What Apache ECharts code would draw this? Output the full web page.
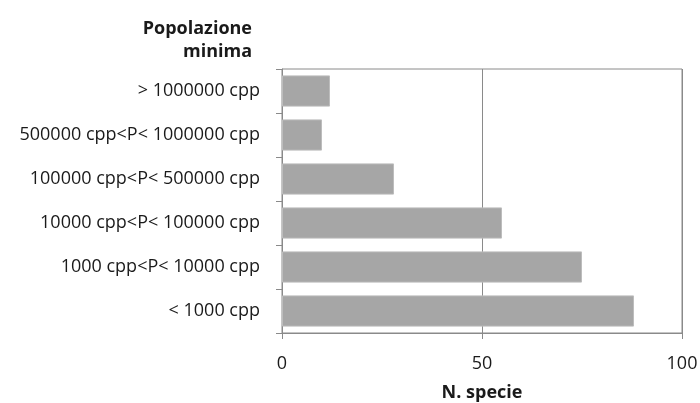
<!DOCTYPE html>
<html>
<head>
<meta charset="utf-8">
<script src="https://cdn.jsdelivr.net/npm/echarts@6/dist/echarts.min.js"></script>
<style>html,body{margin:0;padding:0;background:#fff}#chart{width:700px;height:403px}</style>
</head>
<body>
<div id="chart"></div>
<script>
// Population classes (top to bottom) and number of species in each
const categories = ['> 1000000 cpp', '500000 cpp<P< 1000000 cpp', '100000 cpp<P< 500000 cpp',
  '10000 cpp<P< 100000 cpp', '1000 cpp<P< 10000 cpp', '< 1000 cpp'];
const species = [12, 10, 28, 55, 75, 88];
const xTicks = [0, 50, 100];

const font = '"Open Sans", "Liberation Sans", sans-serif';
const chart = echarts.init(document.getElementById('chart'));
chart.setOption({
  animation: false,
  grid: {
    left: 282, right: 18, top: 69, bottom: 70, containLabel: false, outerBoundsMode: 'none',
    show: true, borderColor: '#8a8a8a', borderWidth: 1
  },
  graphic: [{
    type: 'text', right: 448, top: 17,
    style: { text: 'Popolazione\nminima', font: 'bold 18px ' + font, fill: '#1a1a1a', textAlign: 'right', lineHeight: 23 }
  }],
  xAxis: {
    type: 'value', min: xTicks[0], max: xTicks[xTicks.length - 1], interval: 50,
    name: 'N. specie', nameLocation: 'middle', nameGap: 51,
    nameTextStyle: { fontFamily: font, fontWeight: 'bold', fontSize: 18, color: '#1a1a1a' },
    axisLine: { show: true, lineStyle: { color: '#8a8a8a' } },
    axisTick: { show: true, length: 6, lineStyle: { color: '#8a8a8a' } },
    axisLabel: { fontFamily: font, fontSize: 18, color: '#1a1a1a', margin: 22 },
    splitLine: { show: true, lineStyle: { color: '#8a8a8a' } }
  },
  yAxis: {
    type: 'category', data: categories, inverse: true,
    axisLine: { show: true, lineStyle: { color: '#8a8a8a' } },
    axisTick: { show: true, length: 6, alignWithLabel: false, lineStyle: { color: '#8a8a8a' } },
    axisLabel: { fontFamily: font, fontSize: 18, color: '#1a1a1a', margin: 22 }
  },
  series: [{
    type: 'bar', data: species, barCategoryGap: '29%',
    itemStyle: { color: '#a6a6a6', borderColor: '#bdbdbd', borderWidth: 1 }
  }]
});
</script>
</body>
</html>
